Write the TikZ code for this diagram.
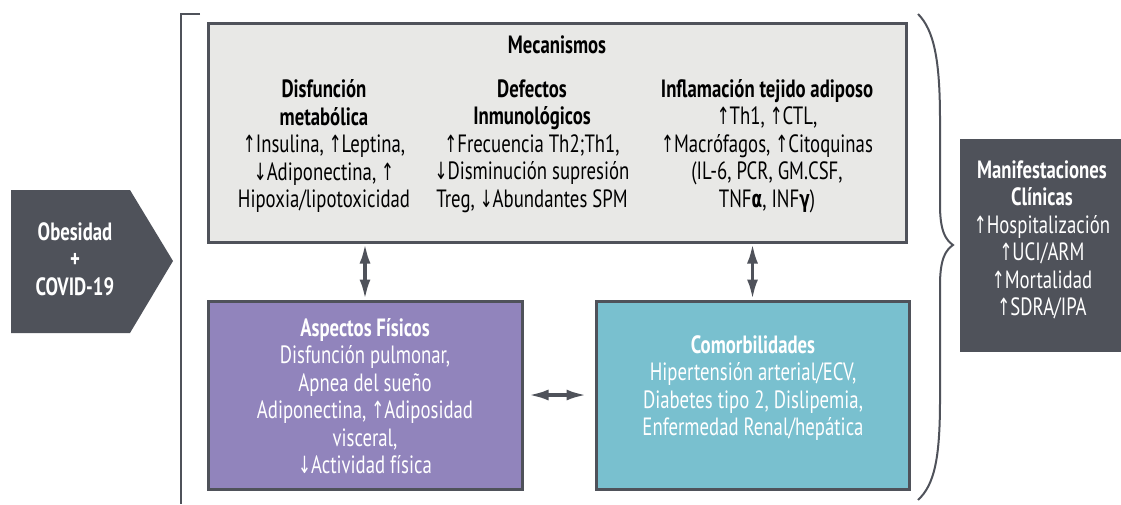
\documentclass[tikz,border=0pt]{standalone}
\usepackage{fontspec}
\setmainfont{PT Sans}[FakeStretch=0.75]
\newfontfamily\symfont{DejaVu Sans}[Scale=0.95,FakeStretch=0.65]
\usetikzlibrary{arrows.meta}
\definecolor{slate}{HTML}{4F525A}
\definecolor{boxgray}{HTML}{E8E8E6}
\definecolor{lila}{HTML}{9184BC}
\definecolor{turq}{HTML}{79C0CF}
\newcommand\arrup{{\symfont ↑}}
\newcommand\arrdn{{\symfont ↓}}
\newcommand\grk[1]{{\symfont\bfseries #1}}
\tikzset{
  box/.style={draw=slate, line width=3pt, inner sep=0pt},
  txt/.style={align=center, inner sep=0pt, font=\fontsize{25}{27.5}\selectfont},
  head/.style={txt, font=\fontsize{25}{27.5}\selectfont\bfseries},
  dbl/.style={{Latex[length=20pt,width=11pt]}-{Latex[length=20pt,width=11pt]}, line width=3.5pt, draw=slate},
}
\begin{document}
\begin{tikzpicture}[x=1pt,y=-1pt]
  \useasboundingbox (0,0) rectangle (1121,504);
  % entrada
  \fill[slate] (11,190) -- (130,190) -- (173,261) -- (130,333) -- (11,333) -- cycle;
  \node[head, text=white] (obe) at (75,259) {Obesidad\\+\\COVID-19};
  \draw[slate, line width=2pt] (200,14) -- (181,14) -- (181,504);
  % mecanismos
  \node[box, fill=boxgray, minimum width=698pt, minimum height=219pt] (mec) at (557,132.5) {};
  \node[head] (mectit) at (557,45) {Mecanismos};
  \node[txt] (met) at (324,146) {\textbf{Disfunción}\\\textbf{metabólica}\\\arrup Insulina, \arrup Leptina,\\\arrdn Adiponectina, \arrup\\Hipoxia/lipotoxicidad};
  \node[txt] (inm) at (532,146) {\textbf{Defectos}\\\textbf{Inmunológicos}\\\arrup Frecuencia Th2;Th1,\\\arrdn Disminución supresión\\Treg, \arrdn Abundantes SPM};
  \node[txt] (inf) at (767,146) {\textbf{Inflamación tejido adiposo}\\\arrup Th1, \arrup CTL,\\\arrup Macrófagos, \arrup Citoquinas\\(IL-6, PCR, GM.CSF,\\TNF\grk{α}, INF\grk{γ})};
  % abajo
  \node[box, fill=lila, minimum width=314pt, minimum height=188pt] (fis) at (365,395) {};
  \node[txt, text=white] (fistxt) at (365,396) {\textbf{Aspectos Físicos}\\Disfunción pulmonar,\\Apnea del sueño\\Adiponectina, \arrup Adiposidad\\visceral,\\\arrdn Actividad física};
  \node[box, fill=turq, minimum width=313pt, minimum height=188pt] (com) at (752.5,395) {};
  \node[txt, text=white] (comtxt) at (753,388) {\textbf{Comorbilidades}\\Hipertensión arterial/ECV,\\Diabetes tipo 2, Dislipemia,\\Enfermedad Renal/hepática};
  \draw[dbl] (fis.north |- mec.south) -- (fis.north);
  \draw[dbl] (com.north |- mec.south) -- (com.north);
  \draw[dbl] ([xshift=5pt]fis.east) -- ([xshift=-8pt]com.west);
  % llave
  \draw[slate, line width=2pt] (918,14) .. controls (934,30) and (940,60) .. (940,120) -- (940,205) .. controls (940,232) and (946,240) .. (953,245) .. controls (946,250) and (940,258) .. (940,285) -- (940,400) .. controls (940,460) and (934,485) .. (918,500);
  % salida
  \node[fill=slate, minimum width=161pt, minimum height=213pt] (man) at (1040.5,245.5) {};
  \node[txt, text=white] (mantxt) at (1042,240) {\textbf{Manifestaciones}\\\textbf{Clínicas}\\\arrup Hospitalización\\\arrup UCI/ARM\\\arrup Mortalidad\\\arrup SDRA/IPA};
\end{tikzpicture}
\end{document}
